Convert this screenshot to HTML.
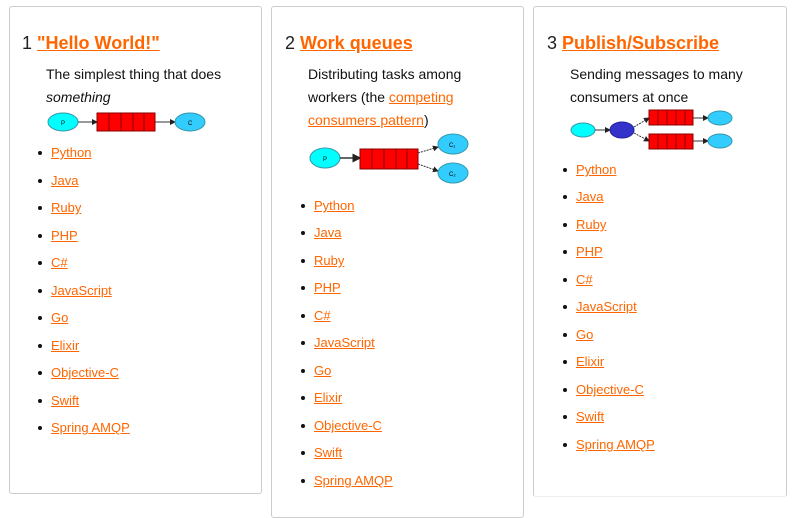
<!DOCTYPE html>
<html><head><meta charset="utf-8"><style>
body{margin:0;width:795px;height:507px;background:#fff;position:relative;overflow:hidden;font-family:"Liberation Sans",sans-serif;color:#222}
.p{position:absolute;border:1px solid #ccc;border-radius:3px;background:#fff}
.t{position:absolute;white-space:nowrap}
.h{font-size:18px;line-height:22px}
.h a{color:#ff6600;font-weight:600;text-decoration:underline}
.d{font-size:14px;line-height:23px;color:#111}
a{color:#ff6600;text-decoration:underline}
.li{position:absolute;font-size:13px;line-height:16px;white-space:nowrap}
.li:before{content:"";position:absolute;left:-13px;top:6px;width:4px;height:4px;border-radius:50%;background:#111}
svg{position:absolute}
</style></head><body>
<svg width="0" height="0"><defs><marker id="ar" markerWidth="6" markerHeight="6" refX="5" refY="3" orient="auto"><path d="M0 0L6 3L0 6z" fill="#222"/></marker></defs></svg>
<div class="p" style="left:9px;top:6px;width:251px;height:486px"></div>
<div class="p" style="left:271px;top:6px;width:251px;height:510px"></div>
<div class="p" style="left:533px;top:6px;width:252px;height:489px;border-bottom-color:#eee"></div>

<div class="t h" style="left:22px;top:32px">1 <a>"Hello World!"</a></div>
<div class="t d" style="left:46px;top:63px">The simplest thing that does<br><i>something</i></div>
<svg style="left:45px;top:108px" width="165" height="26">
<ellipse cx="18" cy="14" rx="15" ry="9" fill="#0ff" stroke="#39a"/><text x="16" y="17" font-size="6" font-family="Liberation Sans">P</text>
<line x1="33" y1="14" x2="52" y2="14" stroke="#333" marker-end="url(#ar)"/>
<rect x="52" y="5" width="58" height="18" fill="red" stroke="#800"/>
<line x1="64" y1="5" x2="64" y2="23" stroke="#800"/><line x1="76" y1="5" x2="76" y2="23" stroke="#800"/><line x1="88" y1="5" x2="88" y2="23" stroke="#800"/><line x1="99" y1="5" x2="99" y2="23" stroke="#800"/>
<line x1="110" y1="14" x2="130" y2="14" stroke="#333" marker-end="url(#ar)"/>
<ellipse cx="145" cy="14" rx="15" ry="9" fill="#3cf" stroke="#39a"/><text x="143" y="17" font-size="6" font-family="Liberation Sans">C</text>
</svg>
<div class="li" style="left:51px;top:145px"><a>Python</a></div>
<div class="li" style="left:51px;top:173px"><a>Java</a></div>
<div class="li" style="left:51px;top:200px"><a>Ruby</a></div>
<div class="li" style="left:51px;top:228px"><a>PHP</a></div>
<div class="li" style="left:51px;top:255px"><a>C#</a></div>
<div class="li" style="left:51px;top:283px"><a>JavaScript</a></div>
<div class="li" style="left:51px;top:310px"><a>Go</a></div>
<div class="li" style="left:51px;top:338px"><a>Elixir</a></div>
<div class="li" style="left:51px;top:365px"><a>Objective-C</a></div>
<div class="li" style="left:51px;top:393px"><a>Swift</a></div>
<div class="li" style="left:51px;top:420px"><a>Spring AMQP</a></div>

<div class="t h" style="left:285px;top:32px">2 <a>Work queues</a></div>
<div class="t d" style="left:308px;top:63px">Distributing tasks among<br>workers (the <a>competing</a><br><a>consumers pattern</a>)</div>
<svg style="left:308px;top:132px" width="165" height="55">
<ellipse cx="17" cy="26" rx="15" ry="10" fill="#0ff" stroke="#39a"/><text x="15" y="29" font-size="6" font-family="Liberation Sans">P</text>
<line x1="32" y1="26" x2="52" y2="26" stroke="#333" stroke-width="1.5" marker-end="url(#ar)"/>
<rect x="52" y="17" width="58" height="20" fill="red" stroke="#800"/>
<line x1="64" y1="17" x2="64" y2="37" stroke="#800"/><line x1="76" y1="17" x2="76" y2="37" stroke="#800"/><line x1="88" y1="17" x2="88" y2="37" stroke="#800"/><line x1="99" y1="17" x2="99" y2="37" stroke="#800"/>
<line x1="110" y1="21" x2="130" y2="15" stroke="#333" stroke-dasharray="2,1" marker-end="url(#ar)"/><line x1="110" y1="32" x2="130" y2="39" stroke="#333" stroke-dasharray="2,1" marker-end="url(#ar)"/>
<ellipse cx="145" cy="12" rx="15" ry="10" fill="#3cf" stroke="#39a"/><text x="141" y="15" font-size="6" font-family="Liberation Sans">C₁</text>
<ellipse cx="145" cy="41" rx="15" ry="10" fill="#3cf" stroke="#39a"/><text x="141" y="44" font-size="6" font-family="Liberation Sans">C₂</text>
</svg>
<div class="li" style="left:314px;top:198px"><a>Python</a></div>
<div class="li" style="left:314px;top:225px"><a>Java</a></div>
<div class="li" style="left:314px;top:253px"><a>Ruby</a></div>
<div class="li" style="left:314px;top:280px"><a>PHP</a></div>
<div class="li" style="left:314px;top:308px"><a>C#</a></div>
<div class="li" style="left:314px;top:335px"><a>JavaScript</a></div>
<div class="li" style="left:314px;top:363px"><a>Go</a></div>
<div class="li" style="left:314px;top:390px"><a>Elixir</a></div>
<div class="li" style="left:314px;top:418px"><a>Objective-C</a></div>
<div class="li" style="left:314px;top:445px"><a>Swift</a></div>
<div class="li" style="left:314px;top:473px"><a>Spring AMQP</a></div>

<div class="t h" style="left:547px;top:32px">3 <a>Publish/Subscribe</a></div>
<div class="t d" style="left:570px;top:63px">Sending messages to many<br>consumers at once</div>
<svg style="left:570px;top:108px" width="170" height="44">
<ellipse cx="13" cy="22" rx="12" ry="7" fill="#0ff" stroke="#39a"/>
<line x1="25" y1="22" x2="40" y2="22" stroke="#333" marker-end="url(#ar)"/>
<ellipse cx="52" cy="22" rx="12" ry="8" fill="#33c" stroke="#229"/>
<line x1="64" y1="19" x2="79" y2="10" stroke="#333" stroke-dasharray="2,1" marker-end="url(#ar)"/><line x1="64" y1="25" x2="79" y2="33" stroke="#333" stroke-dasharray="2,1" marker-end="url(#ar)"/>
<rect x="79" y="2" width="44" height="15" fill="red" stroke="#800"/>
<rect x="79" y="26" width="44" height="15" fill="red" stroke="#800"/>
<path d="M88 2v15M97 2v15M106 2v15M115 2v15M88 26v15M97 26v15M106 26v15M115 26v15" stroke="#800"/>
<line x1="123" y1="10" x2="138" y2="10" stroke="#333" marker-end="url(#ar)"/><line x1="123" y1="33" x2="138" y2="33" stroke="#333" marker-end="url(#ar)"/>
<ellipse cx="150" cy="10" rx="12" ry="7" fill="#3cf" stroke="#39a"/>
<ellipse cx="150" cy="33" rx="12" ry="7" fill="#3cf" stroke="#39a"/>
</svg>
<div class="li" style="left:576px;top:162px"><a>Python</a></div>
<div class="li" style="left:576px;top:189px"><a>Java</a></div>
<div class="li" style="left:576px;top:217px"><a>Ruby</a></div>
<div class="li" style="left:576px;top:244px"><a>PHP</a></div>
<div class="li" style="left:576px;top:272px"><a>C#</a></div>
<div class="li" style="left:576px;top:299px"><a>JavaScript</a></div>
<div class="li" style="left:576px;top:327px"><a>Go</a></div>
<div class="li" style="left:576px;top:354px"><a>Elixir</a></div>
<div class="li" style="left:576px;top:382px"><a>Objective-C</a></div>
<div class="li" style="left:576px;top:409px"><a>Swift</a></div>
<div class="li" style="left:576px;top:437px"><a>Spring AMQP</a></div>
</body></html>
